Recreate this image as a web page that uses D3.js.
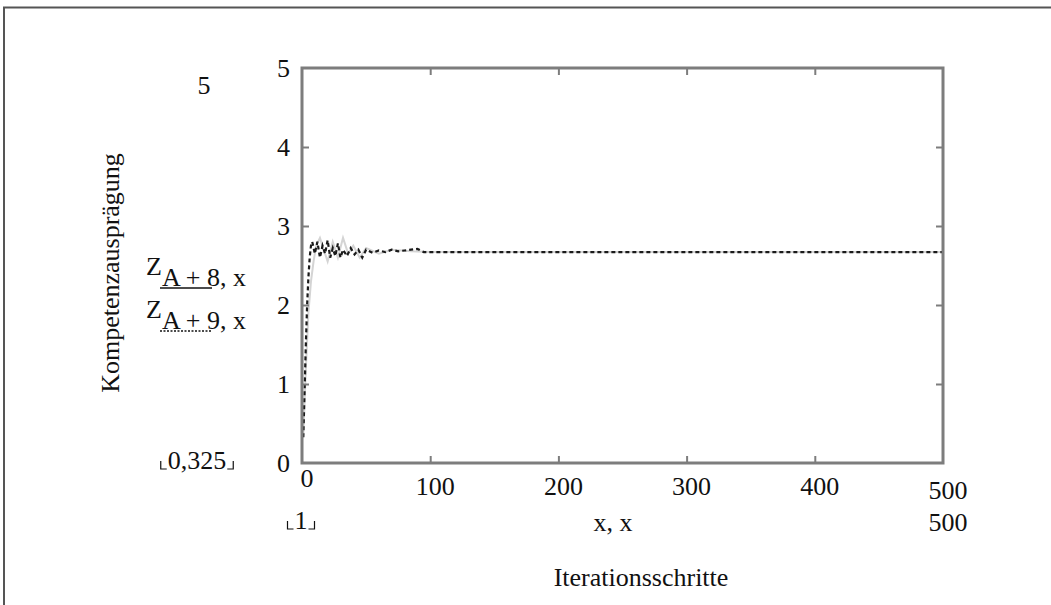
<!DOCTYPE html>
<html><head><meta charset="utf-8">
<script src="https://cdn.jsdelivr.net/npm/d3@7"></script>
<style>
html,body{margin:0;padding:0;background:#fff;}
text{font-family:"Liberation Serif","Times New Roman",serif;fill:#111;}
</style></head>
<body><svg id="c" width="1051" height="605"></svg>
<script>
// ---- data ----
const xTicks = [0, 100, 200, 300, 400, 500];
const yTicks = [0, 1, 2, 3, 4, 5];
// Z_{A+8,x}  (light solid)
const iterA8 = [1, 3, 5, 7, 9, 11, 14, 17, 20, 24, 28, 32, 36, 40, 45, 50, 60, 70, 85, 100, 150, 200, 300, 400, 500];
const valA8  = [0.325, 1.2, 1.9, 2.3, 2.55, 2.75, 2.85, 2.7, 2.55, 2.8, 2.6, 2.85, 2.65, 2.75, 2.6, 2.72, 2.65, 2.7, 2.68, 2.67, 2.67, 2.67, 2.67, 2.67, 2.67];
// Z_{A+9,x}  (dotted)
const iterA9 = [1, 2, 3, 4, 5, 6, 7, 8, 10, 12, 14, 16, 18, 20, 22, 24, 26, 28, 30, 32, 35, 38, 41, 44, 47, 50, 55, 60, 65, 70, 75, 80, 85, 90, 95, 100, 150, 200, 300, 400, 500];
const valA9  = [0.325, 0.9, 1.5, 2.0, 2.35, 2.6, 2.75, 2.8, 2.65, 2.8, 2.6, 2.75, 2.65, 2.82, 2.6, 2.72, 2.62, 2.78, 2.6, 2.7, 2.62, 2.72, 2.64, 2.7, 2.6, 2.7, 2.66, 2.69, 2.67, 2.7, 2.68, 2.69, 2.7, 2.71, 2.67, 2.67, 2.67, 2.67, 2.67, 2.67, 2.67];

const svg = d3.select("#c");
const L = 302, R = 943, T = 68, B = 463;
const x = d3.scaleLinear().domain([0, 500]).range([L, R]);
const y = d3.scaleLinear().domain([0, 5]).range([B, T]);
const FS = 26;

// outer frame
svg.append("path").attr("d", "M4,605 L4,7.5 L1051,7.5").attr("fill", "none").attr("stroke", "#555").attr("stroke-width", 2);

// plot lines
const line = d3.line().x(d => x(d[0])).y(d => y(d[1]));
svg.append("path").datum(iterA8.map((v, i) => [v, valA8[i]]))
  .attr("d", line).attr("fill", "none").attr("stroke", "#d4d4d4").attr("stroke-width", 2);
svg.append("path").datum(iterA9.map((v, i) => [v, valA9[i]]))
  .attr("d", line).attr("fill", "none").attr("stroke", "#1a1a1a").attr("stroke-width", 2.2).attr("stroke-dasharray", "4,3");

// axes (box with inward ticks)
const frameCol = "#7d7d7d";
function styleAxis(g) {
  g.select(".domain").remove();
  g.selectAll(".tick line").attr("stroke", frameCol).attr("stroke-width", 2);
}
const inner = [100, 200, 300, 400];
const innerY = [1, 2, 3, 4];
svg.append("g").attr("transform", `translate(0,${B})`).call(d3.axisTop(x).tickValues(inner).tickSize(7).tickFormat("")).call(styleAxis);
svg.append("g").attr("transform", `translate(0,${T})`).call(d3.axisBottom(x).tickValues(inner).tickSize(7).tickFormat("")).call(styleAxis);
svg.append("g").attr("transform", `translate(${L},0)`).call(d3.axisRight(y).tickValues(innerY).tickSize(7).tickFormat("")).call(styleAxis);
svg.append("g").attr("transform", `translate(${R},0)`).call(d3.axisLeft(y).tickValues(innerY).tickSize(7).tickFormat("")).call(styleAxis);
svg.append("rect").attr("x", L).attr("y", T).attr("width", R - L).attr("height", B - T)
  .attr("fill", "none").attr("stroke", frameCol).attr("stroke-width", 3);

// y tick labels
svg.append("g").selectAll("text").data(yTicks).join("text")
  .attr("x", 290).attr("y", d => y(d)).attr("dy", "0.34em")
  .attr("text-anchor", "end").attr("font-size", FS).text(d => d);

// x tick labels
svg.append("g").selectAll("text").data(xTicks).join("text")
  .attr("x", d => x(d) + 5).attr("y", d => d === 0 ? 478 : (d === 500 ? 490 : 486)).attr("dy", "0.34em")
  .attr("text-anchor", "middle").attr("font-size", FS).text(d => d);

// extra labels
svg.append("text").attr("x", 948).attr("y", 522).attr("dy", "0.34em").attr("text-anchor", "middle").attr("font-size", FS).text("500");
svg.append("text").attr("x", 613).attr("y", 522).attr("dy", "0.34em").attr("text-anchor", "middle").attr("font-size", FS).text("x, x");
svg.append("text").attr("x", 641).attr("y", 577).attr("dy", "0.34em").attr("text-anchor", "middle").attr("font-size", FS).text("Iterationsschritte");
svg.append("text").attr("x", 204).attr("y", 85).attr("dy", "0.34em").attr("text-anchor", "middle").attr("font-size", FS).text("5");
svg.append("text").attr("transform", "translate(119,273) rotate(-90)").attr("text-anchor", "middle").attr("font-size", FS).text("Kompetenzausprägung");

// bracketed labels
function bracketed(cx, cy, str) {
  const t = svg.append("text").attr("x", cx).attr("y", cy).attr("dy", "0.34em").attr("text-anchor", "middle").attr("font-size", FS).text(str);
  const bb = t.node().getBBox();
  const base = cy + 9;
  svg.append("path").attr("d", `M${bb.x - 7},${base - 8} L${bb.x - 7},${base} L${bb.x - 1},${base}`).attr("fill", "none").attr("stroke", "#111").attr("stroke-width", 1.2);
  svg.append("path").attr("d", `M${bb.x + bb.width + 7},${base - 8} L${bb.x + bb.width + 7},${base} L${bb.x + bb.width + 1},${base}`).attr("fill", "none").attr("stroke", "#111").attr("stroke-width", 1.2);
}
bracketed(197, 460, "0,325");
bracketed(301, 520, "1");

// legend-like series labels
function zlabel(by, sub, dash) {
  const t = svg.append("text").attr("x", 146).attr("y", by).attr("font-size", FS);
  t.append("tspan").text("Z");
  t.append("tspan").attr("dy", 11).text(sub);
  t.append("tspan").text(", x");
  const u = svg.append("line").attr("x1", 160).attr("x2", 212).attr("y1", by + 13).attr("y2", by + 13)
    .attr("stroke", "#111").attr("stroke-width", 1.3);
  if (dash) u.attr("stroke-dasharray", "2,1.5");
}
zlabel(275, "A + 8", false);
zlabel(318, "A + 9", true);
</script></body></html>
